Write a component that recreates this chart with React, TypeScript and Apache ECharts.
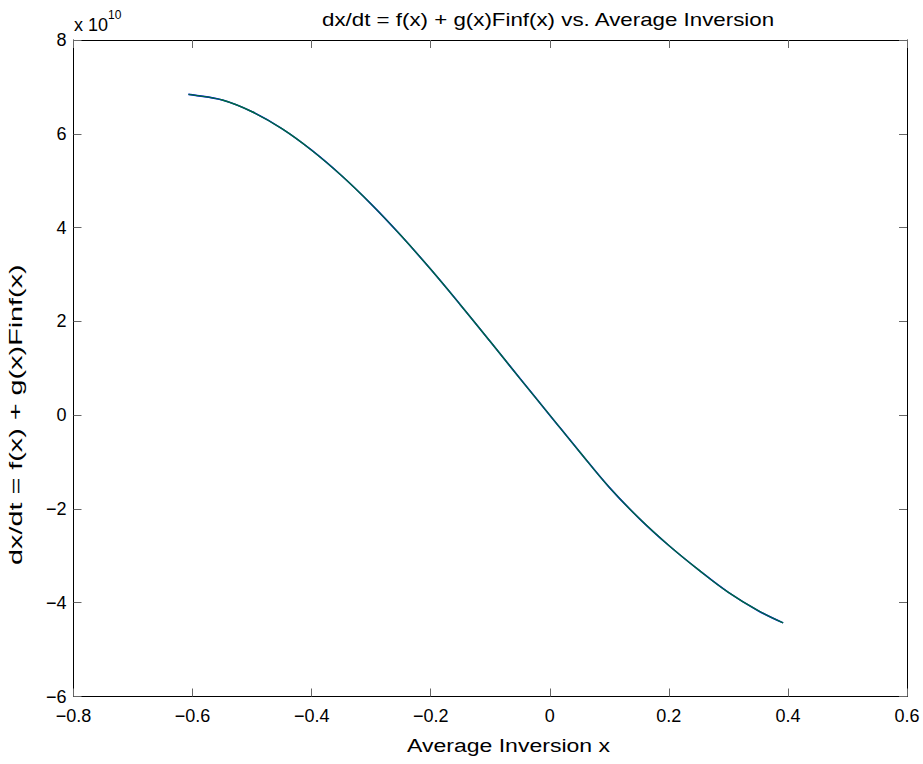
import React, { useEffect, useRef } from "react";
import * as echarts from "echarts";

// Average inversion x
const xValues = [-0.607, -0.6, -0.55, -0.5, -0.45, -0.4, -0.35, -0.3, -0.25, -0.2, -0.15, -0.1, -0.05, 0, 0.05, 0.1, 0.15, 0.2, 0.25, 0.3, 0.35, 0.392];
// dx/dt in units of 1e10
const yValuesE10 = [6.84, 6.83, 6.72, 6.47, 6.11, 5.65, 5.11, 4.5, 3.83, 3.11, 2.35, 1.57, 0.78, 0.0, -0.78, -1.54, -2.2, -2.78, -3.3, -3.78, -4.17, -4.43];

const xTicks = { min: -0.8, max: 0.6, interval: 0.2 };
const yTicks = { min: -6, max: 8, interval: 2 };

const titleText = "dx/dt = f(x) + g(x)Finf(x) vs. Average Inversion";
const xLabelText = "Average Inversion x";
const yLabelText = "dx/dt = f(x) + g(x)Finf(x)";
const exponentText = "10";

const FONT = "'Liberation Sans', Arial, Helvetica, sans-serif";

function fmt(v: number, digits: number): string {
  if (Math.abs(v) < 1e-9) return "0";
  const s = v.toFixed(digits);
  return s.replace("-", "\u2212");
}

export default function App() {
  const ref = useRef<HTMLDivElement>(null);
  useEffect(() => {
    if (!ref.current) return;
    const chart = echarts.init(ref.current, undefined, { renderer: "svg" });
    const data = xValues.map((x, i) => [x, yValuesE10[i]]);
    const tickStyle = { show: true, inside: true, length: 8, lineStyle: { color: "#666", width: 1 } };
    const lineAxis = { show: true, onZero: false, lineStyle: { color: "#000", width: 1 } };
    const left = 73.5;
    const right = 907;
    const top = 40;
    const bottom = 696.5;
    chart.setOption({
      animation: false,
      backgroundColor: "#fff",
      grid: { left: left, top: top, width: right - left, height: bottom - top, containLabel: false },
      xAxis: [
        {
          type: "value",
          position: "bottom",
          min: xTicks.min,
          max: xTicks.max,
          interval: xTicks.interval,
          axisLine: lineAxis,
          axisTick: tickStyle,
          splitLine: { show: false },
          axisLabel: {
            color: "#000",
            fontFamily: FONT,
            fontSize: 18,
            margin: 10,
            formatter: (v: number) => fmt(v, 1),
          },
        },
        {
          type: "value",
          position: "top",
          min: xTicks.min,
          max: xTicks.max,
          interval: xTicks.interval,
          axisLine: lineAxis,
          axisTick: tickStyle,
          splitLine: { show: false },
          axisLabel: { show: false },
        },
      ],
      yAxis: [
        {
          type: "value",
          position: "left",
          min: yTicks.min,
          max: yTicks.max,
          interval: yTicks.interval,
          axisLine: lineAxis,
          axisTick: tickStyle,
          splitLine: { show: false },
          axisLabel: {
            color: "#000",
            fontFamily: FONT,
            fontSize: 18,
            margin: 7,
            formatter: (v: number) => fmt(v, 0),
          },
        },
        {
          type: "value",
          position: "right",
          min: yTicks.min,
          max: yTicks.max,
          interval: yTicks.interval,
          axisLine: lineAxis,
          axisTick: tickStyle,
          splitLine: { show: false },
          axisLabel: { show: false },
        },
      ],
      series: [
        {
          type: "line",
          xAxisIndex: 0,
          yAxisIndex: 0,
          data: data,
          smooth: 0.4,
          showSymbol: false,
          lineStyle: { color: "#0000ff", width: 1.6 },
          z: 2,
        },
        {
          type: "line",
          xAxisIndex: 0,
          yAxisIndex: 0,
          data: data,
          smooth: 0.4,
          showSymbol: false,
          lineStyle: { color: "#006e3a", width: 1.4 },
          z: 3,
        },
      ],
      graphic: [
        {
          type: "text",
          x: 322,
          y: 20,
          scaleX: 1.24,
          style: {
            text: titleText,
            fill: "#000",
            font: `18px ${FONT}`,
            align: "left",
            verticalAlign: "middle",
          },
        },
        {
          type: "text",
          x: 407,
          y: 745,
          scaleX: 1.28,
          style: {
            text: xLabelText,
            fill: "#000",
            font: `18px ${FONT}`,
            align: "left",
            verticalAlign: "middle",
          },
        },
        {
          type: "text",
          x: 16,
          y: 565,
          rotation: Math.PI / 2,
          scaleX: 1.6,
          style: {
            text: yLabelText,
            fill: "#000",
            font: `18px ${FONT}`,
            align: "left",
            verticalAlign: "middle",
          },
        },
        {
          type: "text",
          x: 74,
          y: 25,
          style: {
            text: "x 10",
            fill: "#000",
            font: `18px ${FONT}`,
            align: "left",
            verticalAlign: "middle",
          },
        },
        {
          type: "text",
          x: 108,
          y: 15,
          style: {
            text: exponentText,
            fill: "#000",
            font: `12px ${FONT}`,
            align: "left",
            verticalAlign: "middle",
          },
        },
      ],
    });
    return () => chart.dispose();
  }, []);
  return (
    <div
      ref={ref}
      style={{ position: "absolute", left: 0, top: 0, width: 923, height: 764, background: "#fff" }}
    />
  );
}
